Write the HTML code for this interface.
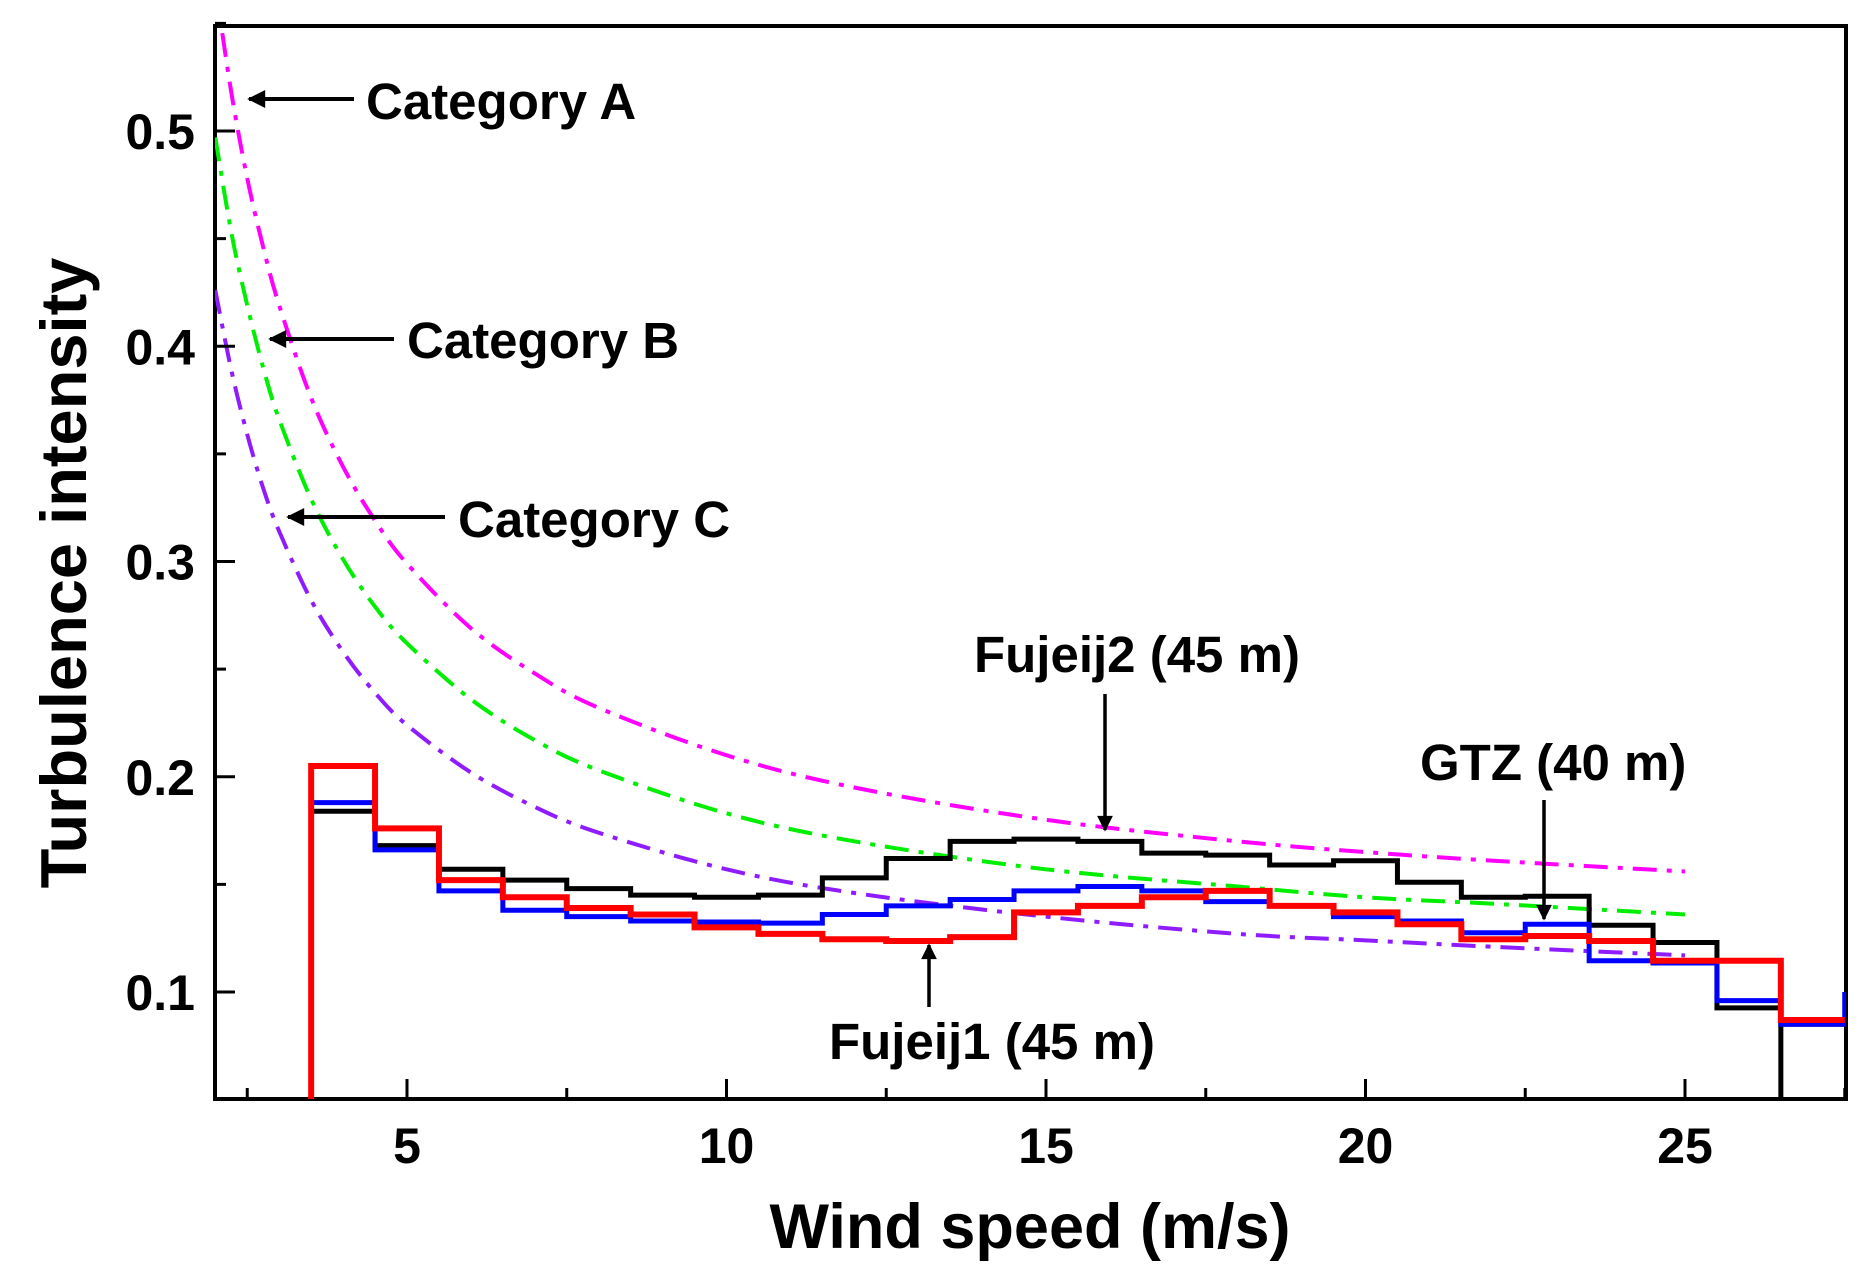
<!DOCTYPE html>
<html><head><meta charset="utf-8"><style>
html,body{margin:0;padding:0;background:#fff;}
svg{display:block;font-family:"Liberation Sans",Arial,sans-serif;font-weight:bold;}
</style></head><body>
<svg id="chart" width="1872" height="1286" viewBox="0 0 1872 1286" xmlns="http://www.w3.org/2000/svg">
<defs>
<clipPath id="plotclip"><rect x="215" y="26" width="1631" height="1073"/></clipPath>
<marker id="ah" viewBox="0 0 10 10" refX="9" refY="5" markerWidth="6" markerHeight="4.5" orient="auto-start-reverse"><path d="M0,0 L10,5 L0,10 z" fill="#000"/></marker>
</defs>
<rect x="215" y="26" width="1631" height="1073" fill="#fff" stroke="#000" stroke-width="4"/>
<g id="curves" clip-path="url(#plotclip)"></g>
<g id="steps" clip-path="url(#plotclip)"></g>
<g id="ticks"></g>
<g font-size="51" fill="#000">
<text x="366" y="119">Category A</text>
<line x1="354" y1="99" x2="249" y2="99" stroke="#000" stroke-width="4" marker-end="url(#ah)"/>
<text x="407" y="358">Category B</text>
<line x1="394" y1="339" x2="270" y2="339" stroke="#000" stroke-width="4" marker-end="url(#ah)"/>
<text x="458" y="537">Category C</text>
<line x1="445" y1="517" x2="288" y2="517" stroke="#000" stroke-width="4" marker-end="url(#ah)"/>
<text x="974" y="672">Fujeij2 (45 m)</text>
<line x1="1105" y1="694" x2="1105" y2="830" stroke="#000" stroke-width="3.5" marker-end="url(#ah)"/>
<text x="1420" y="780">GTZ (40 m)</text>
<line x1="1544" y1="800" x2="1544" y2="919" stroke="#000" stroke-width="3.5" marker-end="url(#ah)"/>
<text x="829" y="1059">Fujeij1 (45 m)</text>
<line x1="929" y1="1007" x2="929" y2="945" stroke="#000" stroke-width="3.5" marker-end="url(#ah)"/>
</g>
<text x="1030" y="1248" font-size="63" text-anchor="middle">Wind speed (m/s)</text>
<text x="0" y="0" font-size="65" text-anchor="middle" transform="translate(86,573) rotate(-90)">Turbulence intensity</text>
</svg>
<script>
const xTicks = [5, 10, 15, 20, 25];
const yTicks = [0.1, 0.2, 0.3, 0.4, 0.5];
const yTickLabels = ["0.1", "0.2", "0.3", "0.4", "0.5"];
const binCenters = [4,5,6,7,8,9,10,11,12,13,14,15,16,17,18,19,20,21,22,23,24,25,26,27];
const gtzValues =     [0.184,0.168,0.157,0.152,0.148,0.145,0.144,0.145,0.153,0.162,0.170,0.171,0.170,0.1645,0.1636,0.159,0.161,0.151,0.144,0.1445,0.131,0.123,0.0926,0.085];
const fujeij2Values = [0.188,0.166,0.147,0.138,0.135,0.133,0.1325,0.132,0.136,0.140,0.143,0.147,0.149,0.147,0.142,0.140,0.135,0.133,0.1275,0.1315,0.1145,0.1135,0.096,0.085];
const fujeij1Values = [0.205,0.176,0.152,0.144,0.139,0.136,0.130,0.127,0.1245,0.1237,0.1255,0.137,0.140,0.144,0.147,0.140,0.137,0.1315,0.1245,0.126,0.1237,0.1145,0.1145,0.087];
const curveSpeeds = [2,2.25,2.5,2.75,3,3.5,4,4.5,5,6,7,8,10,12,15,18,20,22,25];
const catAValues = [0.568,0.518,0.478,0.446,0.419,0.376,0.344,0.319,0.299,0.269,0.248,0.232,0.210,0.195,0.180,0.170,0.165,0.161,0.156];
const catBValues = [0.497,0.453,0.419,0.390,0.366,0.329,0.301,0.279,0.262,0.236,0.217,0.203,0.183,0.170,0.157,0.149,0.144,0.141,0.136];
const catCValues = [0.426,0.389,0.359,0.334,0.314,0.282,0.258,0.239,0.224,0.202,0.186,0.174,0.157,0.146,0.135,0.127,0.124,0.121,0.117];

const NS = "http://www.w3.org/2000/svg";
function xs(v){ return 407 + (v - 5) * 63.9; }
function ys(v){ return 992 - (v - 0.1) * 2152.5; }
const X0 = 215, Y0 = 1099;
function mk(tag, attrs, parent){ const e = document.createElementNS(NS, tag); for (const k in attrs) e.setAttribute(k, attrs[k]); parent.appendChild(e); return e; }

const tg = document.getElementById('ticks');
xTicks.forEach((t) => {
  const l = mk('line', {x1: xs(t), x2: xs(t), y1: Y0, y2: Y0 - 20, stroke: '#000', 'stroke-width': 3}, tg);
  
  
  const tx = mk('text', {x: xs(t), y: 1163, 'font-size': 50, 'text-anchor': 'middle'}, tg);
  tx.textContent = t;
  
  
});
for (let t = 2.5; t < 27.6; t += 5) {
  const l = mk('line', {x1: xs(t), x2: xs(t), y1: Y0, y2: Y0 - 11, stroke: '#000', 'stroke-width': 3}, tg);
  
  
}
yTicks.forEach((t, i) => {
  const l = mk('line', {x1: X0, x2: X0 + 20, y1: ys(t), y2: ys(t), stroke: '#000', 'stroke-width': 3}, tg);
  
  
  const tx = mk('text', {x: 195, y: ys(t) + 18, 'font-size': 50, 'text-anchor': 'end'}, tg);
  tx.textContent = yTickLabels[i];
  
  
});
for (let t = 0.15; t < 0.55; t += 0.1) {
  const l = mk('line', {x1: X0, x2: X0 + 11, y1: ys(t), y2: ys(t), stroke: '#000', 'stroke-width': 3}, tg);
  
  
}

function smoothPath(xv, yv){
  const p = xv.map((x, i) => [xs(x), ys(yv[i])]);
  let d = 'M' + p[0][0] + ',' + p[0][1];
  for (let i = 0; i < p.length - 1; i++) {
    const p0 = p[i - 1] || p[i], p1 = p[i], p2 = p[i + 1], p3 = p[i + 2] || p2;
    const c1 = [p1[0] + (p2[0] - p0[0]) / 6, p1[1] + (p2[1] - p0[1]) / 6];
    const c2 = [p2[0] - (p3[0] - p1[0]) / 6, p2[1] - (p3[1] - p1[1]) / 6];
    d += ' C' + c1 + ' ' + c2 + ' ' + p2;
  }
  return d;
}
const cg = document.getElementById('curves');
const cA = mk('path', {d: smoothPath(curveSpeeds, catAValues), fill: 'none', stroke: '#ff00ff', 'stroke-width': 4, 'stroke-dasharray': '24,10,5,10'}, cg);


const cB = mk('path', {d: smoothPath(curveSpeeds, catBValues), fill: 'none', stroke: '#00ee00', 'stroke-width': 4, 'stroke-dasharray': '24,10,5,10'}, cg);


const cC = mk('path', {d: smoothPath(curveSpeeds, catCValues), fill: 'none', stroke: '#8f1cff', 'stroke-width': 4, 'stroke-dasharray': '24,10,5,10'}, cg);



function stepPath(vals, fromBottom){
  let d = '';
  vals.forEach((v, i) => {
    const xl = xs(binCenters[i] - 0.5), xr = xs(binCenters[i] + 0.5);
    if (i === 0) d += fromBottom ? 'M' + xl + ',' + Y0 + ' L' + xl + ',' + ys(v) : 'M' + xl + ',' + ys(v);
    else d += ' L' + xl + ',' + ys(v);
    d += ' L' + xr + ',' + ys(v);
  });
  return d;
}
const sg = document.getElementById('steps');
const sBlack = mk('path', {d: stepPath(gtzValues, false), fill: 'none', stroke: '#000', 'stroke-width': 5}, sg);


const drop = mk('line', {x1: xs(26.5), x2: xs(26.5), y1: ys(gtzValues[22]), y2: Y0, stroke: '#000', 'stroke-width': 5}, sg);


const sBlue = mk('path', {d: stepPath(fujeij2Values, false) + ' L' + xs(27.5) + ',' + ys(0.1), fill: 'none', stroke: '#0000ff', 'stroke-width': 5}, sg);


const sRed = mk('path', {d: stepPath(fujeij1Values, true), fill: 'none', stroke: '#ff0000', 'stroke-width': 6}, sg);


</script>
</body></html>
